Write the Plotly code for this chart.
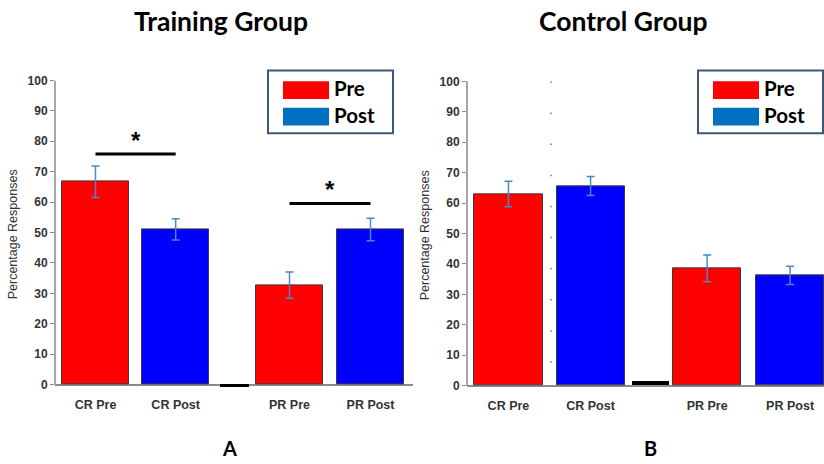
import plotly.graph_objects as go

# ---- data -------------------------------------------------------------
categories = ["CR Pre", "CR Post", "PR Pre", "PR Post"]
x_pos = [1, 2, 3.42, 4.43]          # bar slots (wider gap between CR and PR)
gap_x = 2.73                        # small separator bar between CR and PR

training_vals = [66.7, 51.0, 32.7, 51.0]
training_err = [5.2, 3.5, 4.3, 3.7]
training_gap = -0.8

control_vals = [63.0, 65.6, 38.5, 36.2]
control_err = [4.2, 3.1, 4.4, 3.0]
control_gap = 1.3

# significance brackets in the training group: (from, to, height)
sig_from = [1, 3.42]
sig_to = [2, 4.43]
sig_y = [75.8, 59.5]

y_ticks = [0, 10, 20, 30, 40, 50, 60, 70, 80, 90, 100]

# ---- styling ----------------------------------------------------------
RED = "#FF0000"
BLUE = "#0000FF"
LEG_BLUE = "#0070C0"
ERR = "#4A88C8"
AXIS = "#8A8A8A"
TXT = "#333333"
SANS = "Liberation Sans, Arial, sans-serif"
HEAD = "Lato, Open Sans, sans-serif"

bar_colors = [RED, BLUE, RED, BLUE]

fig = go.Figure()


def add_panel(vals, errs, gap_val, gap_w, xa, ya):
    fig.add_trace(go.Bar(
        x=x_pos, y=vals, width=0.83,
        marker=dict(color=bar_colors, line=dict(color="#3a3a3a", width=1)),
        error_y=dict(type="data", array=errs, color=ERR, thickness=1.5, width=4),
        xaxis=xa, yaxis=ya, showlegend=False, hoverinfo="skip",
    ))
    fig.add_trace(go.Bar(
        x=[gap_x], y=[gap_val], width=gap_w,
        marker=dict(color="black", line=dict(width=0)),
        xaxis=xa, yaxis=ya, showlegend=False, hoverinfo="skip",
    ))


add_panel(training_vals, training_err, training_gap, 0.36, "x", "y")
add_panel(control_vals, control_err, control_gap, 0.45, "x2", "y2")

# significance bars with asterisks
for x0, x1, yv in zip(sig_from, sig_to, sig_y):
    fig.add_trace(go.Scatter(
        x=[x0, x1], y=[yv, yv], mode="lines",
        line=dict(color="black", width=3),
        xaxis="x", yaxis="y", showlegend=False, hoverinfo="skip",
    ))
    fig.add_annotation(
        x=(x0 + x1) / 2, y=yv, xref="x", yref="y", text="<b>*</b>",
        showarrow=False, yshift=14, font=dict(family=SANS, size=24, color="black"),
    )

xaxis_common = dict(
    tickvals=x_pos, ticktext=categories,
    ticks="outside", ticklen=5, tickcolor="rgba(0,0,0,0)",
    showline=False, showgrid=False, zeroline=False,
    tickfont=dict(family=SANS, size=12.5, color=TXT, weight="bold"),
    fixedrange=True,
)
yaxis_common = dict(
    range=[-1.2, 100], tickvals=y_ticks,
    ticks="outside", ticklen=4, tickcolor=AXIS,
    showline=False, showgrid=False,
    zeroline=True, zerolinecolor=AXIS, zerolinewidth=1.5,
    tickfont=dict(family=SANS, size=12, color=TXT, weight="bold"),
    title=dict(text="Percentage Responses",
               font=dict(family=SANS, size=12.5, color=TXT), standoff=7),
    fixedrange=True,
)

W, H = 824, 464
fig.update_layout(
    width=W, height=H,
    margin=dict(l=0, r=0, t=0, b=0),
    paper_bgcolor="white", plot_bgcolor="white",
    xaxis=dict(xaxis_common, domain=[55 / W, 413 / W], range=[0.495, 4.96]),
    yaxis=dict(yaxis_common, domain=[(H - 389.7) / H, (H - 75) / H], anchor="x"),
    xaxis2=dict(xaxis_common, domain=[467 / W, 1.0], range=[0.495, 4.843], anchor="y2"),
    yaxis2=dict(yaxis_common, domain=[(H - 390.7) / H, (H - 76) / H], anchor="x2"),
    bargap=0,
)

# y axis spines from 0 to 100
for xr, yr in (("x domain", "y"), ("x2 domain", "y2")):
    fig.add_shape(type="line", xref=xr, yref=yr, x0=0, x1=0, y0=0, y1=100,
                  line=dict(color=AXIS, width=1.5))

# faint dotted guide in the control panel
fig.add_shape(type="line", xref="x2", yref="y2", x0=1.518, x1=1.518, y0=100, y1=0,
              line=dict(color="#777777", width=1.5, dash="1.5px,29.6px"), layer="below")


def paper_text(txt, xc, yc, size, anchor="center"):
    fig.add_annotation(x=xc / W, y=1 - yc / H, xref="paper", yref="paper",
                       xanchor=anchor, yanchor="middle",
                       text=f"<b>{txt}</b>", showarrow=False,
                       font=dict(family=HEAD, size=size, color="black"))


# panel headings and letters
paper_text("Training Group", 220.5, 14, 26.5)
paper_text("Control Group", 623.5, 14, 26.5)
paper_text("A", 229, 451, 20)
paper_text("B", 650.5, 451, 20)

# boxed legends
for dx in (0, 430):
    fig.add_shape(type="rect", xref="paper", yref="paper",
                  x0=(268 + dx) / W, x1=(393 + dx) / W, y0=1 - 129 / H, y1=1 - 65 / H,
                  line=dict(color="#3F5878", width=2), fillcolor="white")
    for (y0, y1, col, lab) in ((76, 94, RED, "Pre"), (103, 121, LEG_BLUE, "Post")):
        fig.add_shape(type="rect", xref="paper", yref="paper",
                      x0=(283 + dx) / W, x1=(329 + dx) / W, y0=1 - y1 / H, y1=1 - y0 / H,
                      line=dict(width=0), fillcolor=col)
        paper_text(lab, 332 + dx, (y0 + y1) / 2 - 2, 20.5, anchor="left")

fig.write_html("out.html")
